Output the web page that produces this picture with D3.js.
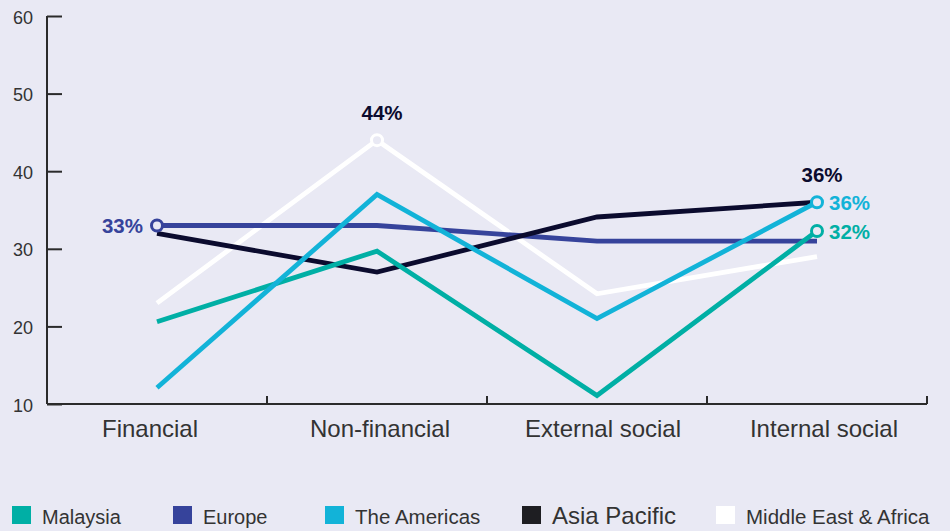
<!DOCTYPE html>
<html>
<head>
<meta charset="utf-8">
<script src="https://cdn.jsdelivr.net/npm/d3@7"></script>
<style>
  html, body { margin: 0; padding: 0; background: #E9E9F4; }
  svg { display: block; font-family: "Liberation Sans", Arial, sans-serif; }
</style>
</head>
<body>
<svg id="chart" width="950" height="531"></svg>
<script>
const categories = ["Financial", "Non-financial", "External social", "Internal social"];
const yTicks = [10, 20, 30, 40, 50, 60];

const malaysia     = [20.6, 29.7, 11.1, 32.3];
const europe       = [33, 33, 31, 31];
const americas     = [12.1, 37, 21, 36];
const asiaPacific  = [32, 27, 34.1, 36];
const middleEast   = [23, 44, 24.2, 29];

const seriesNames  = ["Malaysia", "Europe", "The Americas", "Asia Pacific", "Middle East & Africa"];
const seriesColors = ["#00AFA5", "#36439B", "#12B3D8", "#0B0B2E", "#FFFFFF"];
const seriesValues = [malaysia, europe, americas, asiaPacific, middleEast];
// drawing order (bottom -> top)
const drawOrder = [4, 1, 3, 0, 2];

// highlighted point labels: [series index, category index, text, placement]
const callouts = [
  [1, 0, "33%", "left"],
  [4, 1, "44%", "above"],
  [3, 3, "36%", "above"],
  [2, 3, "36%", "right"],
  [0, 3, "32%", "right"]
];
const circles = [[1, 0], [4, 1], [2, 3], [0, 3]];

const svg = d3.select("#chart");
const bg = "#E9E9F4";
const axisColor = "#2B2B2B";
const textColor = "#333333";

const x = d3.scaleBand().domain(categories).range([47, 927]).padding(0);
const y = d3.scaleLinear().domain([10, 60]).range([404, 16]);
const cx = c => x(c) + x.bandwidth() / 2;

// Y axis
const yAxis = svg.append("g").attr("transform", "translate(47,0)")
  .call(d3.axisRight(y).tickValues(yTicks).tickSize(15).tickFormat(""));
yAxis.select(".domain").attr("stroke", axisColor).attr("stroke-width", 2).attr("d", "M0,16V404");
yAxis.selectAll(".tick line").attr("stroke", axisColor).attr("stroke-width", 2);
svg.append("g").selectAll("text").data(yTicks).join("text")
  .attr("x", 33).attr("y", d => y(d)).attr("dy", "0.42em")
  .attr("text-anchor", "end").attr("font-size", 18).attr("fill", textColor)
  .text(d => d);

// X axis
const xAxis = svg.append("g").attr("transform", "translate(0,404)")
  .call(d3.axisBottom(x).tickSize(0).tickFormat(""));
xAxis.select(".domain").attr("stroke", axisColor).attr("stroke-width", 2).attr("d", "M47,0H927");
xAxis.selectAll(".tick").remove();
const boundaries = categories.map(c => x(c) + x.bandwidth());
svg.append("g").selectAll("line").data(boundaries).join("line")
  .attr("x1", d => d).attr("x2", d => d).attr("y1", 404).attr("y2", 396)
  .attr("stroke", axisColor).attr("stroke-width", 2);
const labelShift = [-7, 3, 6, 7];
svg.append("g").selectAll("text").data(categories).join("text")
  .attr("x", (d, i) => cx(d) + labelShift[i]).attr("y", 437)
  .attr("text-anchor", "middle").attr("font-size", 24).attr("fill", textColor)
  .text(d => d);

// Lines
const line = d3.line().x((d, i) => cx(categories[i])).y(d => y(d));
drawOrder.forEach(si => {
  svg.append("path").datum(seriesValues[si])
    .attr("d", line).attr("fill", "none")
    .attr("stroke", seriesColors[si]).attr("stroke-width", 4.8)
    .attr("stroke-linejoin", "miter");
});

// Circles
circles.forEach(([si, ci]) => {
  svg.append("circle")
    .attr("cx", cx(categories[ci])).attr("cy", y(seriesValues[si][ci]))
    .attr("r", 5.5).attr("fill", bg)
    .attr("stroke", seriesColors[si]).attr("stroke-width", 3);
});

// Callout labels
callouts.forEach(([si, ci, txt, place]) => {
  const px = cx(categories[ci]), py = y(seriesValues[si][ci]);
  const col = si === 4 ? "#0B0B2E" : seriesColors[si];
  const t = svg.append("text").attr("font-size", 20.5).attr("font-weight", "bold")
    .attr("fill", col).text(txt);
  if (place === "left") t.attr("x", px - 14).attr("y", py + 7).attr("text-anchor", "end");
  if (place === "right") t.attr("x", px + 12).attr("y", py + 8).attr("text-anchor", "start");
  if (place === "above") t.attr("x", px + 5).attr("y", py - 20).attr("text-anchor", "middle");
});

// Legend
const legendX = [12, 173, 325, 522, 716];
const legendSize = [20, 20, 20.5, 24, 20.5];
const lg = svg.append("g");
seriesNames.forEach((name, i) => {
  lg.append("rect").attr("x", legendX[i]).attr("y", 506)
    .attr("width", 19).attr("height", 18).attr("fill", seriesColors[i] === "#0B0B2E" ? "#1E1E22" : seriesColors[i]);
  lg.append("text").attr("x", legendX[i] + 30).attr("y", 524)
    .attr("font-size", legendSize[i]).attr("fill", textColor)
    .text(name);
});
</script>
</body>
</html>
